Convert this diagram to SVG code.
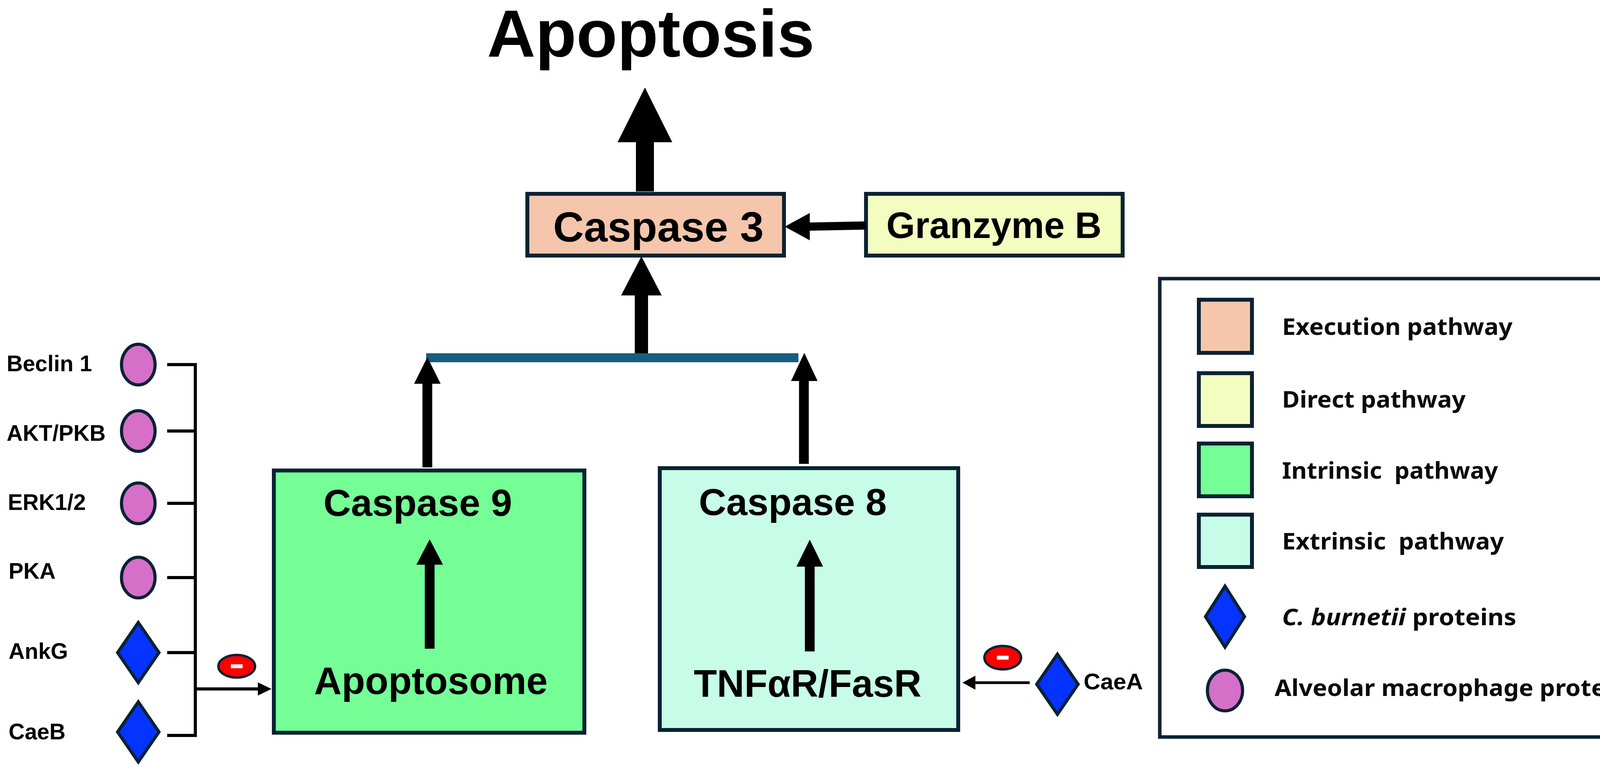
<svg xmlns="http://www.w3.org/2000/svg" width="4327" height="1973" viewBox="0 0 4327 1973">
<style>
.t{font-family:"Liberation Sans",Arial,sans-serif;font-weight:700;fill:#000}
.lg{font-family:"Noto Sans","Open Sans",sans-serif;font-weight:700;fill:#0a0a0a;font-size:60px}
.box{stroke:#0a2233;stroke-width:10}
.circ{fill:#d56fc8;stroke:#0a2233;stroke-width:8}
.dia{fill:#0533ff;stroke:#0a2233;stroke-width:8}
.ln{stroke:#000;fill:none}
.ah{fill:#000}
</style>
<rect width="4327" height="1973" fill="#fff"/>
<g id="title"><text class="t" x="1247" y="145" font-size="170" textLength="838" lengthAdjust="spacingAndGlyphs">Apoptosis</text></g>
<g id="caspase3"><rect class="box" x="1350" y="496" width="657" height="158" fill="#f5c6ac"/><text class="t" x="1416" y="618" font-size="108" textLength="539" lengthAdjust="spacingAndGlyphs">Caspase 3</text></g>
<g id="granzymeB"><rect class="box" x="2217" y="496" width="657" height="158" fill="#f3fdc0"/><text class="t" x="2269" y="609" font-size="94" textLength="551" lengthAdjust="spacingAndGlyphs">Granzyme B</text></g>
<g id="caspase9"><rect class="box" x="701" y="1204" width="795" height="671" fill="#75fe96"/><text class="t" x="828" y="1320" font-size="96" textLength="483" lengthAdjust="spacingAndGlyphs">Caspase 9</text><text class="t" x="804" y="1776" font-size="98" textLength="598" lengthAdjust="spacingAndGlyphs">Apoptosome</text></g>
<g id="caspase8"><rect class="box" x="1689" y="1198" width="764" height="670" fill="#c7fde8"/><text class="t" x="1789" y="1318" font-size="96" textLength="481" lengthAdjust="spacingAndGlyphs">Caspase 8</text><text class="t" x="1776" y="1783" font-size="98" textLength="583" lengthAdjust="spacingAndGlyphs">TNFαR/FasR</text></g>
<g id="proteins">
<text class="t" x="17" y="950" font-size="57">Beclin 1</text><ellipse class="circ" cx="354" cy="933" rx="43" ry="52"/>
<text class="t" x="17" y="1128" font-size="57">AKT/PKB</text><ellipse class="circ" cx="354" cy="1103" rx="43" ry="52"/>
<text class="t" x="20" y="1305" font-size="57">ERK1/2</text><ellipse class="circ" cx="354" cy="1288" rx="43" ry="52"/>
<text class="t" x="22" y="1481" font-size="57">PKA</text><ellipse class="circ" cx="354" cy="1478" rx="43" ry="52"/>
<text class="t" x="22" y="1686" font-size="57">AnkG</text><polygon class="dia" points="354,1593 407,1670 354,1747 301,1670"/>
<text class="t" x="22" y="1892" font-size="57">CaeB</text><polygon class="dia" points="354,1796 407,1873 354,1950 301,1873"/>
<polygon class="dia" points="2707,1674 2760,1751 2707,1828 2654,1751"/>
<text class="t" x="2774" y="1764" font-size="57" textLength="152" lengthAdjust="spacingAndGlyphs">CaeA</text>
</g>
<g id="inhibitors">
<ellipse cx="606" cy="1705" rx="47" ry="29" fill="#ff0000" stroke="#0a2233" stroke-width="6"/><rect x="591" y="1700" width="30" height="10" fill="#fff"/>
<ellipse cx="2567" cy="1683" rx="47" ry="30" fill="#ff0000" stroke="#0a2233" stroke-width="6"/><rect x="2552" y="1678" width="30" height="10" fill="#fff"/>
</g>
<g id="connectors">
<rect x="1091" y="904" width="953" height="23" fill="#175e7e"/>
<path class="ln" stroke-width="8" d="M428,933H500V1882H428M428,1103H500M428,1288H500M428,1478H500M428,1670H500M500,1763H665"/>
<polygon class="ah" points="695,1763 660,1746 660,1780"/>
<path class="ln" stroke-width="7" d="M2636,1747H2495"/>
<polygon class="ah" points="2464,1747 2497,1729 2497,1765"/>
<path class="ln" stroke-width="25" d="M1094,1196V975M1100,1660V1440M2058,1187V975M2073,1667V1445"/>
<polygon class="ah" points="1094,914 1060,982 1128,982"/>
<polygon class="ah" points="1100,1380 1066,1445 1134,1445"/>
<polygon class="ah" points="2059,903 2025,975 2093,975"/>
<polygon class="ah" points="2073,1381 2039,1450 2107,1450"/>
<path class="ln" stroke-width="34" d="M1642,904V750"/>
<polygon class="ah" points="1642,656 1590,756 1694,756"/>
<path class="ln" stroke-width="46" d="M1651,490V360"/>
<polygon class="ah" points="1651,224 1581,364 1721,364"/>
<path class="ln" stroke-width="21" d="M2217,577L2068,580"/>
<polygon class="ah" points="2009,580 2073,545 2073,615"/>
</g>
<g id="legend">
<rect x="2969" y="713" width="1331" height="1173" fill="#fff" stroke="#0a2233" stroke-width="9"/>
<rect class="box" x="3069" y="767" width="136" height="136" fill="#f5c6ac" stroke-width="9"/>
<rect class="box" x="3069" y="955" width="136" height="135" fill="#f3fdc0" stroke-width="9"/>
<rect class="box" x="3069" y="1135" width="136" height="135" fill="#75fe96" stroke-width="9"/>
<rect class="box" x="3069" y="1317" width="136" height="134" fill="#c7fde8" stroke-width="9"/>
<polygon class="dia" points="3136,1500 3186,1578 3136,1656 3086,1578"/>
<ellipse class="circ" cx="3136" cy="1767" rx="45" ry="52"/>
<text class="lg" x="3282" y="857" textLength="590" lengthAdjust="spacingAndGlyphs">Execution pathway</text>
<text class="lg" x="3282" y="1043" textLength="470" lengthAdjust="spacingAndGlyphs">Direct pathway</text>
<text class="lg" x="3282" y="1225" textLength="553" lengthAdjust="spacingAndGlyphs" xml:space="preserve">Intrinsic  pathway</text>
<text class="lg" x="3282" y="1406" textLength="568" lengthAdjust="spacingAndGlyphs" xml:space="preserve">Extrinsic  pathway</text>
<text class="lg" x="3282" y="1600" textLength="600" lengthAdjust="spacingAndGlyphs"><tspan font-style="italic">C. burnetii</tspan> proteins</text>
<text class="lg" x="3263" y="1781" textLength="938" lengthAdjust="spacingAndGlyphs">Alveolar macrophage proteins</text>
</g>
</svg>
